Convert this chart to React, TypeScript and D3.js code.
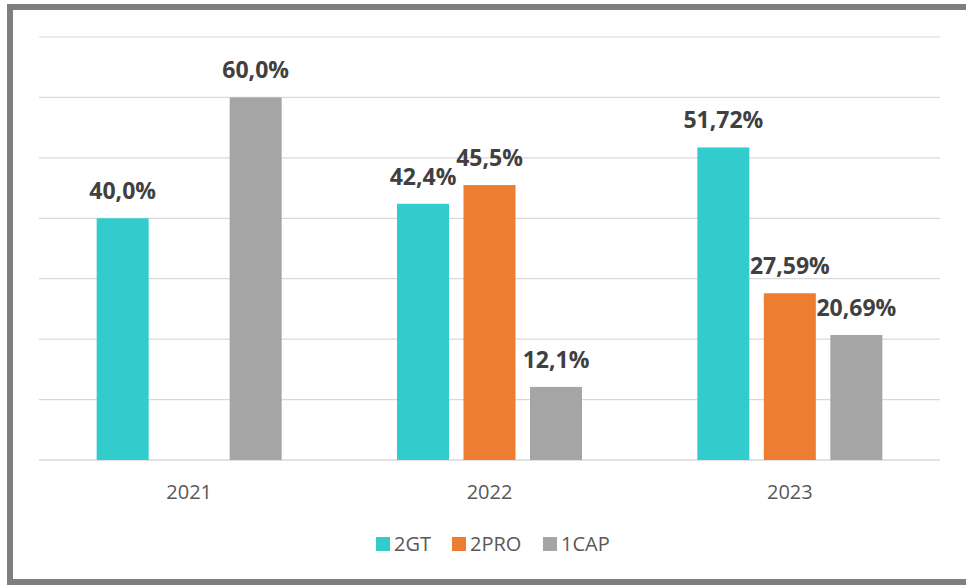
import React from "react";
import * as d3 from "d3";

const categories = ["2021", "2022", "2023"];
const seriesNames = ["2GT", "2PRO", "1CAP"];
const colors = ["#33CCCC", "#ED7D31", "#A5A5A5"];
const values2GT: (number | null)[] = [40.0, 42.4, 51.72];
const values2PRO: (number | null)[] = [null, 45.5, 27.59];
const values1CAP: (number | null)[] = [60.0, 12.1, 20.69];
const labels2GT = ["40,0%", "42,4%", "51,72%"];
const labels2PRO = ["", "45,5%", "27,59%"];
const labels1CAP = ["60,0%", "12,1%", "20,69%"];
const gridTicks = [0, 10, 20, 30, 40, 50, 60, 70];

const W = 966;
const H = 585;

export default function App() {
  const left = 39;
  const right = 940;
  const top = 37;
  const bottom = 460;
  const x = d3.scaleBand<string>().domain(categories).range([left, right]).paddingInner(0).paddingOuter(0);
  const y = d3.scaleLinear().domain([0, 70]).range([bottom, top]);
  const groupW = 52 * 3 + 14.5 * 2;
  const inner = d3.scaleBand<string>().domain(seriesNames).range([0, groupW]).paddingInner(14.5 / 66.5).paddingOuter(0);

  const allValues = [values2GT, values2PRO, values1CAP];
  const allLabels = [labels2GT, labels2PRO, labels1CAP];
  const font = "'Open Sans', sans-serif";

  const legendItems = [
    { name: "2GT", sx: 376, tx: 394 },
    { name: "2PRO", sx: 452, tx: 470 },
    { name: "1CAP", sx: 543, tx: 561 },
  ];

  return (
    <svg width={W} height={H} style={{ position: "absolute", left: 0, top: 0, background: "#fff" }}>
      <rect x={10} y={7} width={990} height={575} fill="#fff" stroke="#7F7F7F" strokeWidth={6} />
      {gridTicks.map((t) => (
        <line key={t} x1={left} x2={right} y1={y(t)} y2={y(t)} stroke="#D9D9D9" strokeWidth={t === 0 ? 1.5 : 1.2} />
      ))}
      {categories.map((c, ci) => {
        const cx = (x(c) as number) + x.bandwidth() / 2;
        const gx = cx - groupW / 2;
        return (
          <g key={c}>
            {seriesNames.map((s, si) => {
              const v = allValues[si][ci];
              if (v === null) return null;
              const bx = gx + (inner(s) as number);
              return (
                <g key={s}>
                  <rect x={bx} y={y(v)} width={inner.bandwidth()} height={bottom - y(v)} fill={colors[si]} />
                  <text
                    x={bx + inner.bandwidth() / 2}
                    y={y(v) - 19}
                    textAnchor="middle"
                    fontFamily={font}
                    fontWeight="bold"
                    fontSize={23}
                    fill="#404040"
                  >
                    {allLabels[si][ci]}
                  </text>
                </g>
              );
            })}
            <text x={cx} y={499} textAnchor="middle" fontFamily={font} fontSize={20} fill="#595959">
              {c}
            </text>
          </g>
        );
      })}
      {legendItems.map((l, i) => (
        <g key={l.name}>
          <rect x={l.sx} y={537} width={14} height={14} fill={colors[i]} />
          <text x={l.tx} y={551} fontFamily={font} fontSize={20} fill="#595959">
            {seriesNames[i]}
          </text>
        </g>
      ))}
    </svg>
  );
}
